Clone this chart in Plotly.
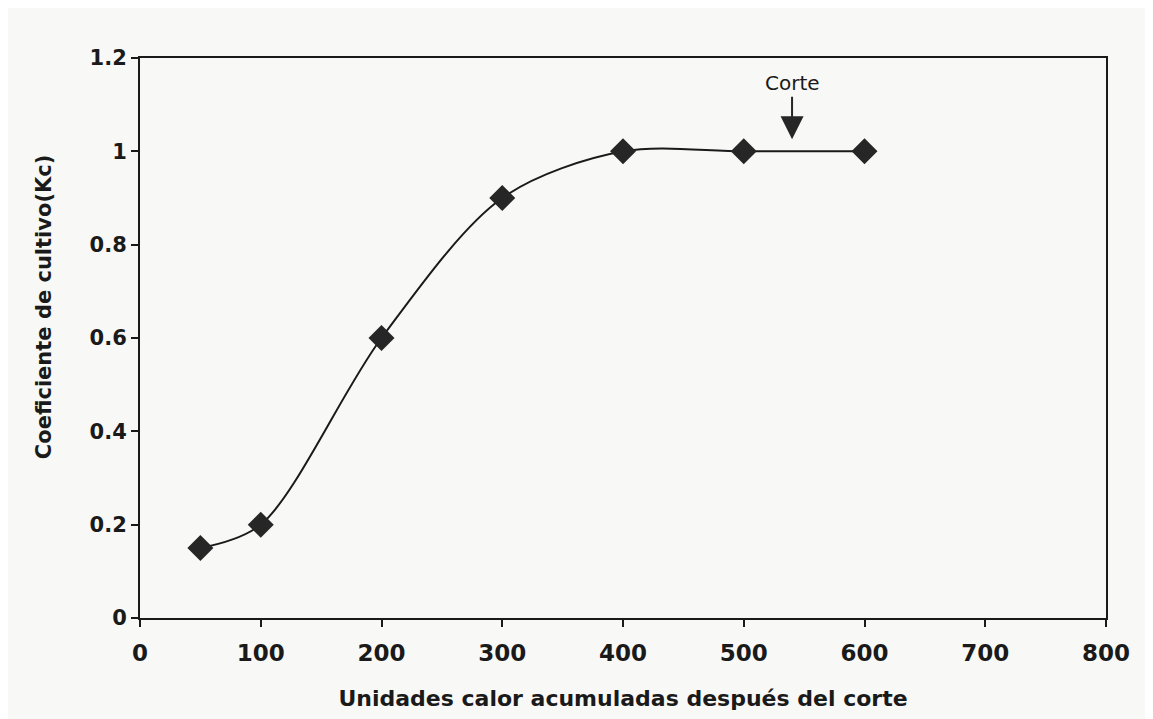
import plotly.graph_objects as go

# unidades calor acumuladas vs coeficiente de cultivo
unidades = [50, 100, 200, 300, 400, 500, 600]
kc = [0.15, 0.2, 0.6, 0.9, 1.0, 1.0, 1.0]

corte_x = 540
corte_y = 1.026

fig = go.Figure()
fig.add_trace(go.Scatter(
    x=unidades, y=kc,
    mode='lines+markers',
    line=dict(color='#1a1a1a', width=2, shape='spline', smoothing=0.9),
    marker=dict(symbol='diamond', size=20, color='#262626'),
    showlegend=False,
))

fig.add_annotation(x=corte_x, y=corte_y, text='', showarrow=True,
                   ax=0, ay=-44, arrowhead=2, arrowsize=2.3, arrowwidth=2,
                   arrowcolor='#262626')
fig.add_annotation(x=corte_x, y=corte_y, text='Corte', showarrow=False,
                   yshift=56, font=dict(size=20, family='DejaVu Sans', color='#1a1a1a'))

# titulo eje y como anotacion (queda algo por encima del centro)
fig.add_annotation(xref='paper', yref='paper', x=0, y=0.555, xshift=-110,
                   text='<b>Coeficiente de cultivo(Kc)</b>', textangle=-90,
                   showarrow=False, font=dict(size=21, family='DejaVu Sans', color='#1a1a1a'))

font_fam = 'DejaVu Sans, Liberation Sans, sans-serif'
fig.update_layout(
    width=1145, height=711,
    margin=dict(l=132, r=47, t=50, b=101),
    paper_bgcolor='#f8f8f6',
    plot_bgcolor='#f8f8f6',
    font=dict(family=font_fam, color='#1a1a1a'),
)
fig.update_xaxes(
    range=[0, 800], dtick=100, tick0=0,
    showgrid=False, zeroline=False,
    showline=True, linecolor='#1a1a1a', linewidth=2, mirror=True,
    ticks='outside', ticklen=7, tickwidth=2, tickcolor='#1a1a1a',
    ticklabelstandoff=6,
    tickfont=dict(size=23, family=font_fam, weight='bold'),
    title=dict(text='<b>Unidades calor acumuladas después del corte</b>',
               font=dict(size=22), standoff=26),
)
fig.update_yaxes(
    range=[0, 1.2], dtick=0.2, tick0=0,
    showgrid=False, zeroline=False,
    showline=True, linecolor='#1a1a1a', linewidth=2, mirror=True,
    ticks='outside', ticklen=7, tickwidth=2, tickcolor='#1a1a1a',
    tickfont=dict(size=21, family=font_fam, weight='bold'),
)

fig.write_html('out.html')
